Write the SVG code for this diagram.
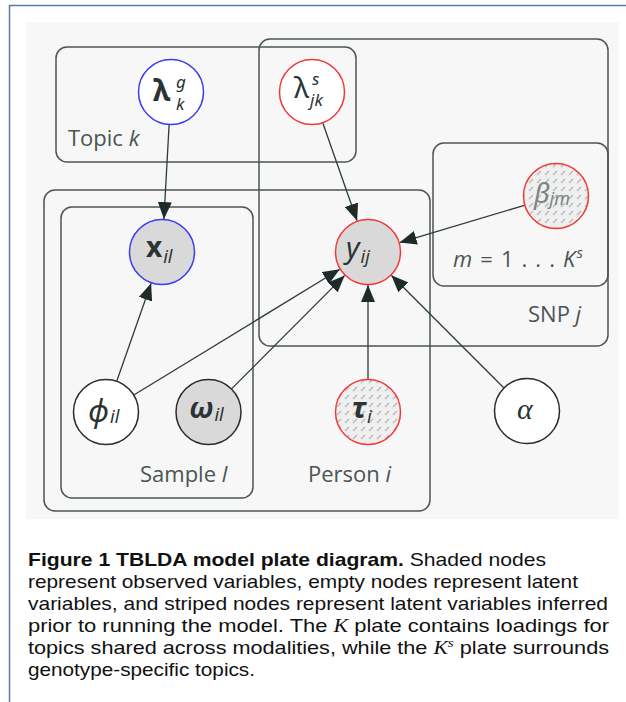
<svg xmlns="http://www.w3.org/2000/svg" width="626" height="702" viewBox="0 0 626 702">
<style>
.plate{fill:none;stroke:#4b5555;stroke-width:1.5}
.node{stroke-width:1.5}
.plain{fill:#ffffff;stroke:#2b2b2b}
.obs{fill:#d9d9d9;stroke:#2b2b2b}
.blue{stroke:#3a3af2}
.red{stroke:#f23a3a}
.obsfill{fill:#d9d9d9}
.hatch{fill:url(#hatch)}
.white{fill:#ffffff}
.edge{stroke:#2f3c3c;stroke-width:1.3;fill:none;marker-end:url(#arr)}
.plabel{font-family:"Open Sans","Noto Sans",sans-serif;font-size:22px;fill:#4a5454}
.math{font-family:"Noto Sans","DejaVu Sans",sans-serif;fill:#2a3434}
.cap{font-family:"Liberation Sans",Arial,sans-serif;font-size:18.5px;fill:#111111}
.kk{font-family:"Liberation Serif","Times New Roman",serif;font-style:italic}
</style>
<defs>
<marker id="arr" markerUnits="userSpaceOnUse" markerWidth="17" markerHeight="14" refX="17" refY="7" orient="auto">
<path d="M0,0 L17,7 L0,14 z" fill="#1f2a2a"/>
</marker>
<pattern id="hatch" patternUnits="userSpaceOnUse" width="8" height="8">
<rect width="8" height="8" fill="#efefef"/>
<line x1="1" y1="7" x2="5" y2="3" stroke="#b5b5b5" stroke-width="1.1"/>
</pattern>
</defs>
<rect x="0" y="0" width="626" height="702" fill="#ffffff"/>
<line x1="9" y1="5.5" x2="626" y2="5.5" stroke="#5b7ba6" stroke-width="1.5"/>
<line x1="9.5" y1="5" x2="9.5" y2="702" stroke="#5b7ba6" stroke-width="1.5"/>
<rect x="26" y="22" width="593" height="497" fill="#f7f7f7"/>

<g id="plates">
<g id="plate-topic"><rect class="plate" x="56" y="47" width="300" height="115" rx="11"/><text class="plabel" x="68" y="146">Topic <tspan font-style="italic">k</tspan></text></g>
<g id="plate-snp"><rect class="plate" x="259" y="39" width="349" height="307" rx="11"/><text class="plabel" x="528" y="322">SNP <tspan font-style="italic">j</tspan></text></g>
<g id="plate-m"><rect class="plate" x="433" y="143" width="175" height="143" rx="11"/><text class="plabel" x="453" y="267" font-style="italic" textLength="130">m <tspan font-style="normal">= 1 . . . </tspan>K<tspan font-size="15" dy="-9">s</tspan></text></g>
<g id="plate-person"><rect class="plate" x="44" y="190" width="386" height="321" rx="11"/><text class="plabel" x="308" y="482">Person <tspan font-style="italic">i</tspan></text></g>
<g id="plate-sample"><rect class="plate" x="61" y="207" width="192" height="291" rx="11"/><text class="plabel" x="140" y="482">Sample <tspan font-style="italic">l</tspan></text></g>
</g>

<g id="connectors">
<line class="edge" x1="169.1" y1="124.9" x2="163.9" y2="219.1"/>
<line class="edge" x1="322.9" y1="123.2" x2="357.1" y2="220.8"/>
<line class="edge" x1="524.4" y1="205.4" x2="399.6" y2="242.6"/>
<line class="edge" x1="116.9" y1="380.8" x2="151.1" y2="283.2"/>
<line class="edge" x1="134.2" y1="394.8" x2="339.8" y2="269.2"/>
<line class="edge" x1="231.8" y1="388.6" x2="344.7" y2="275.4"/>
<line class="edge" x1="368" y1="379" x2="368" y2="285"/>
<line class="edge" x1="503.7" y1="387.7" x2="391.3" y2="275.3"/>
</g>

<g id="node-lambda-g">
<circle class="node white blue" cx="171" cy="92" r="32.5"/>
<text class="math" x="153" y="101" font-size="30" font-weight="bold">λ<tspan x="176" y="88" font-size="17" font-weight="normal" font-style="italic">g</tspan><tspan x="176" y="110" font-size="17" font-weight="normal" font-style="italic">k</tspan></text>
</g>
<g id="node-lambda-s">
<circle class="node white red" cx="312" cy="92" r="32.5"/>
<text class="math" x="294" y="98" font-size="29">λ<tspan x="312" y="85" font-size="17" font-style="italic">s</tspan><tspan x="310" y="106" font-size="17" font-style="italic">jk</tspan></text>
</g>
<g id="node-x">
<circle class="node obsfill blue" cx="162" cy="252" r="32.5"/>
<text class="math" x="146" y="257" font-size="28" font-weight="bold">x<tspan font-size="18" font-weight="normal" font-style="italic" dx="1" dy="6">il</tspan></text>
</g>
<g id="node-y">
<circle class="node obsfill red" cx="368" cy="252" r="32.5"/>
<text class="math" x="346" y="258" font-size="29" font-style="italic">y<tspan font-size="18" dx="1" dy="5">ij</tspan></text>
</g>
<g id="node-beta">
<circle class="node hatch red" cx="556" cy="196" r="32.5"/>
<text class="math" x="534" y="203" font-size="27" font-style="italic" style="fill:#7a8484">β<tspan font-size="18" dx="0" dy="2">jm</tspan></text>
</g>
<g id="node-phi">
<circle class="node plain" cx="106" cy="412" r="32.5"/>
<text class="math" x="88" y="422" font-size="31" font-style="italic">ϕ<tspan font-size="18" dx="1" dy="1">il</tspan></text>
</g>
<g id="node-omega">
<circle class="node obs" cx="208.5" cy="412" r="32.5"/>
<text class="math" x="189" y="418" font-size="29" font-weight="bold" font-style="italic">ω<tspan font-size="18" font-weight="normal" dx="1" dy="3">il</tspan></text>
</g>
<g id="node-tau">
<circle class="node hatch red" cx="368" cy="412" r="32.5"/>
<text class="math" x="352" y="418" font-size="29" font-weight="bold" font-style="italic">τ<tspan font-size="18" font-weight="normal" dx="1" dy="5">i</tspan></text>
</g>
<g id="node-alpha">
<circle class="node plain" cx="527" cy="411" r="32.5"/>
<text x="517" y="419" font-family="'Liberation Serif',serif" font-size="30" font-style="italic" fill="#2a3434">α</text>
</g>

<g id="caption">
<text class="cap" x="28" y="566" textLength="518" lengthAdjust="spacingAndGlyphs"><tspan font-weight="bold">Figure 1  TBLDA model plate diagram.</tspan> Shaded nodes</text>
<text class="cap" x="28" y="588" textLength="550" lengthAdjust="spacingAndGlyphs">represent observed variables, empty nodes represent latent</text>
<text class="cap" x="28" y="610" textLength="580" lengthAdjust="spacingAndGlyphs">variables, and striped nodes represent latent variables inferred</text>
<text class="cap" x="28" y="632" textLength="581" lengthAdjust="spacingAndGlyphs">prior to running the model. The <tspan class="kk">K</tspan> plate contains loadings for</text>
<text class="cap" x="28" y="654" textLength="581" lengthAdjust="spacingAndGlyphs">topics shared across modalities, while the <tspan class="kk">K</tspan><tspan class="kk" font-size="13" dy="-7">s</tspan><tspan dy="7"> plate surrounds</tspan></text>
<text class="cap" x="28" y="676" textLength="227" lengthAdjust="spacingAndGlyphs">genotype-specific topics.</text>
</g>
</svg>
